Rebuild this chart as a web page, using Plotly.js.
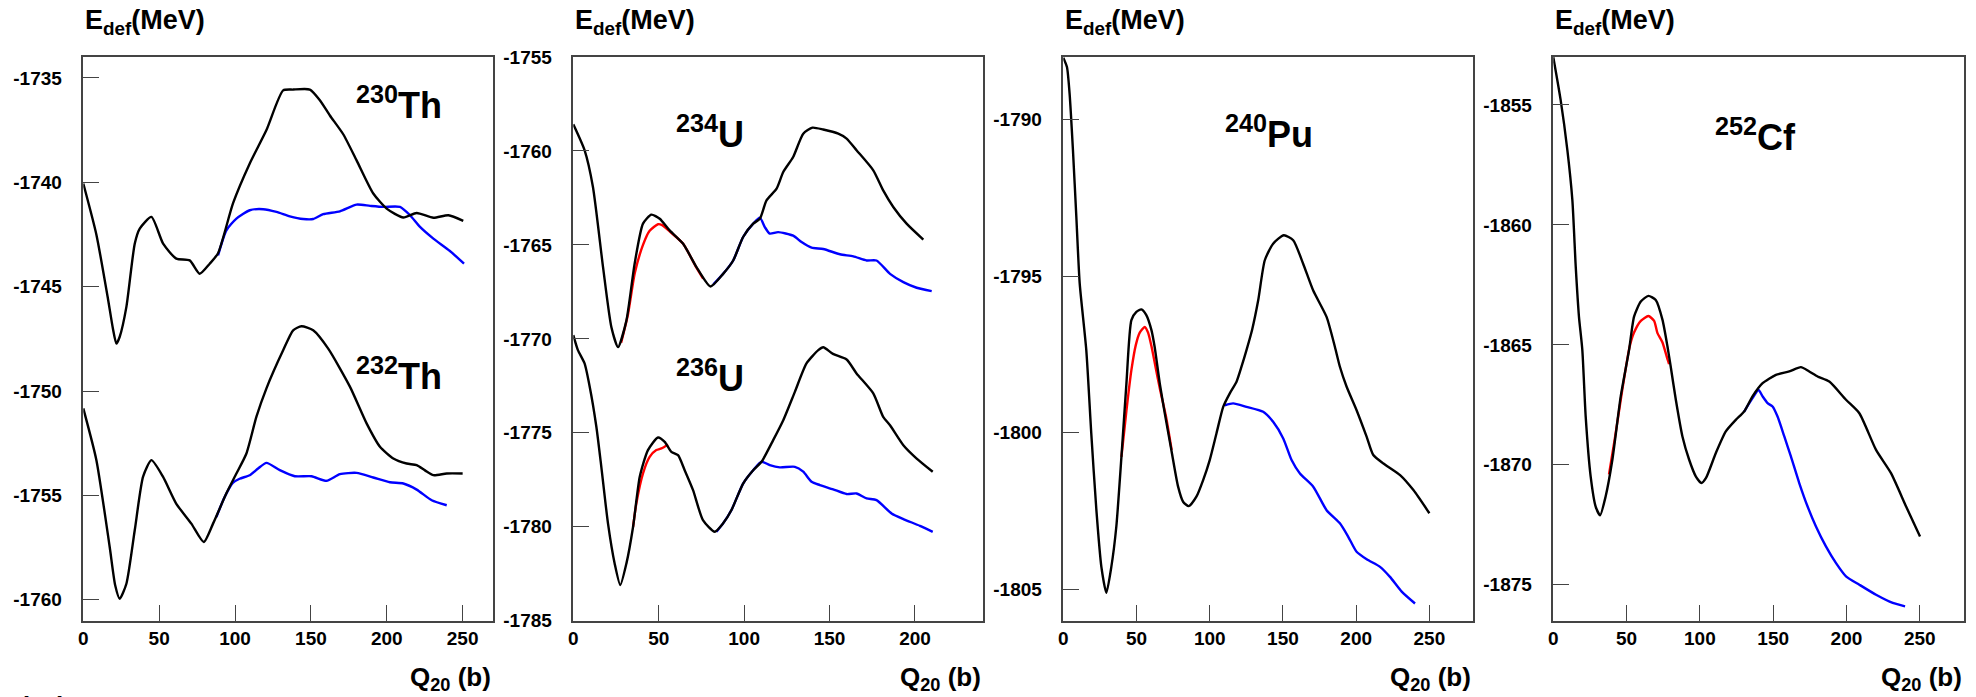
<!DOCTYPE html>
<html><head><meta charset="utf-8">
<script src="https://cdn.plot.ly/plotly-3.0.1.min.js"></script>
<style>html,body{margin:0;padding:0;background:#fff;} #chart{width:1976px;height:697px;}</style>
</head><body><div id="chart"></div><script>
// ---- 230Th ----
const th230_q = [0, 8.6, 16.3, 19.5, 21.8, 24, 28.4, 33.9, 37.2, 44.9, 52.6, 61.3, 70.1, 76.7, 83.3, 88.8, 98.7, 109.7, 120.7, 131.7, 138.3, 149.3, 155.9, 162.5, 171.3, 180.1, 191.1, 199.9, 210.9, 219.7, 230.7, 240.6, 250.4];
const th230_e = [-1740.06, -1742.5, -1745.6, -1747.0, -1747.73, -1747.4, -1745.97, -1742.94, -1742.22, -1741.66, -1742.94, -1743.66, -1743.74, -1744.38, -1743.9, -1743.4, -1741.0, -1739.1, -1737.5, -1735.6, -1735.56, -1735.56, -1736.07, -1736.8, -1737.7, -1738.95, -1740.54, -1741.26, -1741.69, -1741.47, -1741.7, -1741.58, -1741.85];
const th230_blue_q = [88.8, 94.3, 100.9, 109.7, 118.5, 127.3, 136.1, 144.9, 151.5, 158.1, 169.1, 180.1, 189, 197.7, 208.7, 215.3, 221.9, 230.7, 241.6, 250.9];
const th230_blue_e = [-1743.5, -1742.3, -1741.74, -1741.34, -1741.29, -1741.42, -1741.63, -1741.76, -1741.76, -1741.53, -1741.39, -1741.07, -1741.13, -1741.18, -1741.18, -1741.58, -1742.14, -1742.7, -1743.29, -1743.9];
// ---- 232Th ----
const th232_q = [0, 8.6, 17.4, 21, 24, 28.4, 33.9, 39.4, 44.9, 52.5, 61.3, 71.2, 79.4, 85.5, 94.3, 100.9, 107.5, 114.1, 120.7, 131.7, 138.3, 143.8, 151.5, 161.4, 175.7, 186.7, 195.5, 204.3, 213.1, 219.7, 225.2, 230.7, 239.5, 250];
const th232_e = [-1750.83, -1753.3, -1757.47, -1759.3, -1759.95, -1759.23, -1756.67, -1754.1, -1753.31, -1754.1, -1755.4, -1756.35, -1757.23, -1756.35, -1754.9, -1753.95, -1752.99, -1751.23, -1749.87, -1748.05, -1747.09, -1746.9, -1747.09, -1747.97, -1749.79, -1751.55, -1752.67, -1753.23, -1753.47, -1753.55, -1753.8, -1754.03, -1753.95, -1753.95];
const th232_blue_q = [87.7, 93, 98.5, 103, 109.7, 115.2, 120.7, 129.5, 139.4, 150.4, 160.3, 169.1, 180.1, 191.1, 202.1, 210.9, 219.7, 229.6, 239.5];
const th232_blue_e = [-1756.03, -1755.1, -1754.4, -1754.2, -1754.03, -1753.71, -1753.44, -1753.79, -1754.08, -1754.08, -1754.3, -1753.98, -1753.92, -1754.14, -1754.37, -1754.43, -1754.72, -1755.23, -1755.47];
// ---- 234U ----
const u234_q = [0, 6.6, 11.5, 17.4, 22.3, 26.2, 31.1, 35.9, 40.8, 45.7, 50.6, 56.4, 64.3, 72.1, 80.3, 87.7, 93.6, 99.4, 105.3, 109.2, 113.1, 119, 122.9, 128.7, 134.6, 140, 146.3, 155.1, 160, 165.8, 175.6, 181.4, 187.3, 195.1, 204.9];
const u234_e = [-1758.58, -1759.96, -1761.92, -1766.18, -1769.38, -1770.44, -1769.02, -1766.0, -1763.87, -1763.39, -1763.61, -1764.23, -1764.94, -1766.18, -1767.21, -1766.54, -1765.83, -1764.58, -1763.87, -1763.61, -1762.63, -1762.01, -1761.12, -1760.32, -1759.08, -1758.76, -1758.86, -1759.08, -1759.34, -1759.96, -1761.03, -1762.1, -1762.98, -1763.87, -1764.72];
const u234_red_q = [28, 32, 36, 40.8, 44.7, 49.6, 52, 56.4, 64.3, 72, 76];
const u234_red_e = [-1770.2, -1768.7, -1766.5, -1765.0, -1764.25, -1763.9, -1763.95, -1764.28, -1764.94, -1766.2, -1766.8];
const u234_blue_q = [82, 87.7, 93.6, 99.4, 105.3, 109.2, 112.1, 115, 119.9, 128.7, 133.6, 139.5, 146.3, 156.1, 163.9, 171.7, 177.5, 185.4, 193.2, 201, 209.8];
const u234_blue_e = [-1767.1, -1766.54, -1765.83, -1764.58, -1763.87, -1763.55, -1764.05, -1764.4, -1764.32, -1764.51, -1764.85, -1765.15, -1765.22, -1765.5, -1765.61, -1765.83, -1765.83, -1766.54, -1766.98, -1767.28, -1767.46];
// ---- 236U ----
const u236_q = [0, 2.7, 6.6, 9.6, 13.5, 16.4, 20.3, 24.2, 27.5, 31.1, 35, 38.9, 43.7, 49.6, 53.5, 57.4, 61.3, 65.2, 70.1, 75.9, 82.8, 87.7, 92.6, 99.4, 105.3, 110.2, 117, 122.9, 129.7, 136.5, 143.4, 146.3, 152, 160, 165.8, 175.6, 181.4, 185.4, 193.2, 201, 210.4];
const u236_e = [-1769.8, -1770.6, -1771.31, -1772.55, -1774.68, -1776.81, -1779.82, -1781.95, -1783.1, -1781.95, -1780.0, -1777.34, -1775.92, -1775.25, -1775.48, -1776.01, -1776.19, -1776.99, -1778.05, -1779.65, -1780.27, -1779.82, -1779.11, -1777.7, -1776.99, -1776.54, -1775.39, -1774.33, -1772.82, -1771.31, -1770.6, -1770.45, -1770.8, -1771.1, -1771.84, -1772.9, -1774.15, -1774.6, -1775.66, -1776.37, -1777.07];
const u236_red_q = [35, 36.9, 40.8, 44.7, 48.6, 51.6, 55.5];
const u236_red_e = [-1780.0, -1778.76, -1777.16, -1776.28, -1775.92, -1775.83, -1775.62];
const u236_blue_q = [83.8, 87.7, 92.6, 99.4, 105.3, 110.2, 115, 120.9, 129.7, 134.6, 139.5, 144.3, 152.1, 160, 165.8, 171.7, 177.5, 186.3, 193.2, 202.9, 210.4];
const u236_blue_e = [-1780.27, -1779.82, -1779.11, -1777.7, -1776.99, -1776.54, -1776.72, -1776.84, -1776.81, -1777.07, -1777.61, -1777.78, -1778.01, -1778.26, -1778.23, -1778.49, -1778.58, -1779.29, -1779.59, -1779.95, -1780.27];
// ---- 240Pu ----
const pu240_q = [0, 2.5, 4.3, 6.6, 8.9, 11.2, 15.7, 19.1, 22.6, 26, 29.4, 32.8, 36.2, 39.7, 43.1, 46.5, 49.9, 53.3, 56.7, 60.2, 62.4, 65.9, 69.3, 73.8, 78.4, 81.8, 85.7, 90.9, 95.5, 100, 104.6, 109.2, 113.7, 118.3, 121.7, 125.1, 129, 133.1, 137.6, 143.3, 150.6, 157, 163.8, 170.6, 179.8, 185.5, 188.9, 193.5, 200.3, 207.2, 211.7, 218.6, 230, 239.1, 250];
const pu240_e = [-1788.02, -1788.32, -1789.17, -1790.98, -1793.1, -1795.23, -1797.36, -1800.02, -1802.47, -1804.28, -1805.11, -1804.28, -1803.0, -1800.77, -1798.43, -1796.4, -1796.14, -1796.06, -1796.24, -1796.72, -1797.26, -1798.43, -1799.38, -1800.55, -1801.72, -1802.2, -1802.34, -1802.04, -1801.51, -1800.87, -1800.02, -1799.17, -1798.74, -1798.37, -1797.89, -1797.36, -1796.7, -1795.77, -1794.49, -1793.96, -1793.69, -1793.85, -1794.6, -1795.45, -1796.3, -1797.26, -1797.89, -1798.53, -1799.28, -1800.13, -1800.71, -1800.98, -1801.35, -1801.83, -1802.57];
const pu240_red_q = [39.7, 43.1, 46.5, 49.5, 52.2, 55.6, 57.9, 60.5, 63, 66, 70, 74];
const pu240_red_e = [-1800.77, -1799.3, -1798.0, -1797.2, -1796.8, -1796.62, -1796.8, -1797.3, -1797.9, -1798.6, -1799.45, -1800.55];
const pu240_blue_q = [110.3, 116, 125.1, 136.5, 143.3, 150.2, 155.9, 161.6, 170.7, 179.8, 188.9, 194.6, 200.3, 207.2, 216.3, 223.1, 231.1, 240.2];
const pu240_blue_e = [-1799.12, -1799.06, -1799.17, -1799.33, -1799.65, -1800.18, -1800.87, -1801.3, -1801.72, -1802.47, -1802.89, -1803.32, -1803.8, -1804.04, -1804.28, -1804.6, -1805.07, -1805.45];
// ---- 252Cf ----
const cf252_q = [0, 5, 9.6, 13, 15.3, 17.5, 19.8, 22.1, 25.5, 28.9, 31.9, 35.7, 40.3, 46, 51.7, 55.1, 59.7, 64.9, 69.9, 74.5, 77.9, 80.1, 83.6, 88.1, 92.7, 97.3, 101.1, 104.1, 110.9, 117.7, 124.5, 130.2, 135.9, 142.8, 151.9, 161, 168.9, 174.6, 180.3, 188.3, 199.7, 208.8, 220.2, 230.4, 240.7, 250.2];
const cf252_e = [-1853.01, -1854.79, -1856.88, -1858.96, -1861.74, -1863.82, -1865.21, -1867.99, -1870.49, -1871.74, -1872.11, -1871.32, -1869.79, -1867.15, -1865.21, -1863.82, -1863.19, -1862.96, -1863.13, -1863.96, -1865.07, -1865.9, -1867.29, -1868.82, -1869.79, -1870.49, -1870.76, -1870.56, -1869.51, -1868.61, -1868.13, -1867.78, -1867.15, -1866.6, -1866.25, -1866.11, -1865.93, -1866.11, -1866.32, -1866.53, -1867.29, -1867.85, -1869.38, -1870.35, -1871.74, -1872.99];
const cf252_red_q = [38, 42, 47, 52, 55, 59.7, 64.9, 68.8, 71, 74.5, 77.9, 79];
const cf252_red_e = [-1870.4, -1868.9, -1866.9, -1865.1, -1864.5, -1864.0, -1863.8, -1864.0, -1864.5, -1864.9, -1865.6, -1865.8];
const cf252_blue_q = [130.2, 135.9, 140, 142.8, 146.2, 149.6, 153, 157.6, 162.1, 167.8, 173.5, 179.2, 186, 192.9, 199.7, 208.8, 220.2, 231.6, 240];
const cf252_blue_e = [-1867.78, -1867.22, -1866.88, -1867.15, -1867.43, -1867.57, -1867.99, -1868.82, -1869.65, -1870.76, -1871.74, -1872.57, -1873.4, -1874.1, -1874.65, -1875.0, -1875.42, -1875.76, -1875.9];

// tick values and labels (hyphen minus as in the reference)
const yTicks1 = [-1760, -1755, -1750, -1745, -1740, -1735];
const yLabels1 = ['-1760', '-1755', '-1750', '-1745', '-1740', '-1735'];
const yTicks2 = [-1785, -1780, -1775, -1770, -1765, -1760, -1755];
const yLabels2 = ['-1785', '-1780', '-1775', '-1770', '-1765', '-1760', '-1755'];
const yTicks3 = [-1805, -1800, -1795, -1790];
const yLabels3 = ['-1805', '-1800', '-1795', '-1790'];
const yTicks4 = [-1875, -1870, -1865, -1860, -1855];
const yLabels4 = ['-1875', '-1870', '-1865', '-1860', '-1855'];
const xTicks250 = [0, 50, 100, 150, 200, 250];
const xLabels250 = ['0', '50', '100', '150', '200', '250'];
const xTicks200 = [0, 50, 100, 150, 200];
const xLabels200 = ['0', '50', '100', '150', '200'];

// panel labels
const nuclei = ['<sup>230</sup>Th', '<sup>232</sup>Th', '<sup>234</sup>U', '<sup>236</sup>U', '<sup>240</sup>Pu', '<sup>252</sup>Cf'];
const yTitle = 'E<sub>def</sub>(MeV)';
const xTitle = 'Q<sub>20</sub> (b)';
const panelLabel = '( a )';
const xRanges = [[0, 270], [0, 240], [0, 280], [0, 280]];
const yRanges = [[-1761, -1734], [-1785, -1755], [-1806, -1788], [-1876.5, -1853]];
const yTickSets = [[yTicks1, yLabels1], [yTicks2, yLabels2], [yTicks3, yLabels3], [yTicks4, yLabels4]];
const xTickSets = [[xTicks250, xLabels250], [xTicks200, xLabels200], [xTicks250, xLabels250], [xTicks250, xLabels250]];

const W = 1976, H = 697;
const panelPx = [[83.3, 493], [573.3, 983.3], [1063.3, 1473.3], [1553.3, 1963.7]];
const yDom = [1 - 620.7 / H, 1 - 57 / H];

const BLACK = '#000000', RED = '#ff0000', BLUE = '#0000ff';
function tr(q, e, color, k) {
  return {x: q, y: e, type: 'scatter', mode: 'lines',
    line: {color: color, width: 2.4, shape: 'spline', smoothing: 0.6},
    xaxis: k === 1 ? 'x' : 'x' + k, yaxis: k === 1 ? 'y' : 'y' + k,
    hoverinfo: 'skip', showlegend: false};
}
const data = [
  tr(th230_blue_q, th230_blue_e, BLUE, 1), tr(th230_q, th230_e, BLACK, 1),
  tr(th232_blue_q, th232_blue_e, BLUE, 1), tr(th232_q, th232_e, BLACK, 1),
  tr(u234_blue_q, u234_blue_e, BLUE, 2), tr(u234_red_q, u234_red_e, RED, 2), tr(u234_q, u234_e, BLACK, 2),
  tr(u236_blue_q, u236_blue_e, BLUE, 2), tr(u236_red_q, u236_red_e, RED, 2), tr(u236_q, u236_e, BLACK, 2),
  tr(pu240_blue_q, pu240_blue_e, BLUE, 3), tr(pu240_red_q, pu240_red_e, RED, 3), tr(pu240_q, pu240_e, BLACK, 3),
  tr(cf252_blue_q, cf252_blue_e, BLUE, 4), tr(cf252_red_q, cf252_red_e, RED, 4), tr(cf252_q, cf252_e, BLACK, 4)
];

const FONT = 'Liberation Sans';
const PAD = '\u00a0\u00a0\u00a0';
const layout = {
  width: W, height: H, margin: {l: 0, r: 0, t: 0, b: 0},
  paper_bgcolor: '#fff', plot_bgcolor: '#fff', showlegend: false,
  font: {family: FONT, color: '#000', size: 18},
  annotations: []
};
for (let i = 0; i < 4; i++) {
  const k = i === 0 ? '' : String(i + 1);
  layout['xaxis' + k] = {
    domain: [panelPx[i][0] / W, panelPx[i][1] / W], range: xRanges[i], anchor: 'y' + k,
    ticks: 'inside', showline: true, mirror: true, linecolor: '#444', linewidth: 1.6,
    ticklen: 16, tickcolor: '#444', showgrid: false, zeroline: false,
    tickmode: 'array', tickvals: xTickSets[i][0], ticktext: xTickSets[i][1],
    tickfont: {size: 19, family: FONT, weight: 'bold', color: '#000'}
  };
  layout['yaxis' + k] = {
    domain: yDom, range: yRanges[i], anchor: 'x' + k,
    ticks: 'inside', showline: true, mirror: true, linecolor: '#444', linewidth: 1.6,
    ticklen: 16, tickcolor: '#444', showgrid: false, zeroline: false,
    tickmode: 'array', tickvals: yTickSets[i][0], ticktext: yTickSets[i][1].map(s => s + PAD),
    tickfont: {size: 19, family: FONT, weight: 'bold', color: '#000'}
  };
  layout.annotations.push({
    xref: 'paper', yref: 'paper', x: panelPx[i][0] / W, y: 1 - 3 / H,
    xanchor: 'left', yanchor: 'top', showarrow: false,
    text: yTitle, font: {family: FONT, size: 27, color: '#000', weight: 'bold'}
  });
  layout.annotations.push({
    xref: 'paper', yref: 'paper', x: panelPx[i][1] / W, y: 0,
    xanchor: 'right', yanchor: 'bottom', showarrow: false,
    text: xTitle, font: {family: FONT, size: 26, color: '#000', weight: 'bold'}
  });
}
const labelPos = [
  ['x', 'y', 208, -1736.2], ['x', 'y', 208, -1749.2],
  ['x2', 'y2', 80, -1759.0], ['x2', 'y2', 80, -1772.0],
  ['x3', 'y3', 140.4, -1790.4], ['x4', 'y4', 138.2, -1856.25]
];
labelPos.forEach((p, j) => {
  layout.annotations.push({
    xref: p[0], yref: p[1], x: p[2], y: p[3], xanchor: 'center', yanchor: 'middle',
    showarrow: false, text: nuclei[j],
    font: {family: FONT, size: 36, color: '#000', weight: 'bold'}
  });
});
layout.annotations.push({
  xref: 'paper', yref: 'paper', x: 18 / W, y: 1 - 689 / H, xanchor: 'left', yanchor: 'top',
  showarrow: false, text: panelLabel, font: {family: FONT, size: 26, color: '#000', weight: 'bold'}
});

Plotly.newPlot('chart', data, layout, {displayModeBar: false});
</script></body></html>
